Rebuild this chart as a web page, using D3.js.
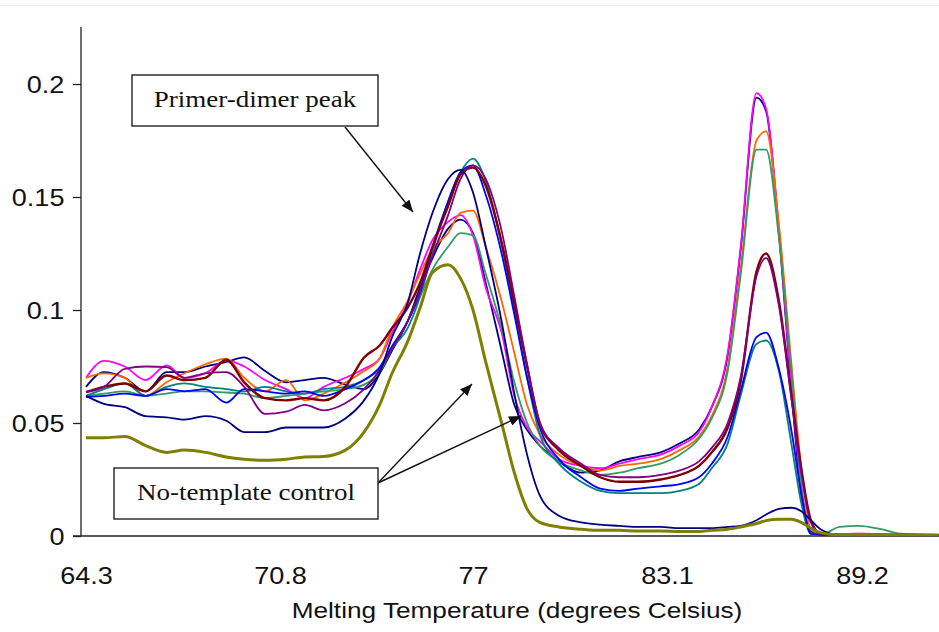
<!DOCTYPE html>
<html>
<head>
<meta charset="utf-8">
<script src="https://d3js.org/d3.v7.min.js"></script>
<style>
  html, body { margin: 0; padding: 0; background: #fff; }
  svg { display: block; }
</style>
</head>
<body>
<svg id="chart" width="939" height="632"></svg>
<script>
// ---- data ----
const temps = [64.3,64.9,65.6,66.3,67.0,67.6,68.3,69.0,69.6,70.3,71.0,71.6,72.2,72.9,73.5,74.0,74.4,74.9,75.3,75.7,76.2,76.6,77.0,77.4,77.9,78.3,78.7,79.1,79.7,80.4,81.0,81.6,82.2,82.9,83.5,84.1,84.5,85.0,85.4,85.9,86.2,86.6,87.0,87.3,87.6,87.9,88.5,89.1,89.8,90.4,91.6];

const xTickValues = [64.3, 70.8, 77, 83.1, 89.2];
const xTickLabels = ["64.3", "70.8", "77", "83.1", "89.2"];
const yTickValues = [0, 0.05, 0.1, 0.15, 0.2];
const yTickLabels = ["0", "0.05", "0.1", "0.15", "0.2"];

const navyB = [0.066,0.0725,0.070,0.064,0.0725,0.0725,0.075,0.077,0.079,0.073,
  0.068,0.069,0.070,0.067,0.065,0.072,0.082,0.095,0.110,0.123,
  0.136,0.140,0.134,0.112,0.082,0.058,0.047,0.040,0.033,0.028,
  0.029,0.033,0.035,0.037,0.041,0.047,0.057,0.080,0.126,0.194,
  0.188,0.134,0.063,0.018,0.002,0.001,0.0005,0.0006,0.0005,0.0005,0.0005];
const magenta = [0.070,0.0775,0.075,0.069,0.0755,0.070,0.072,0.0777,0.075,0.069,
  0.065,0.061,0.066,0.070,0.074,0.0785,0.090,0.103,0.118,0.131,
  0.139,0.142,0.133,0.110,0.090,0.062,0.048,0.042,0.034,0.031,
  0.030,0.032,0.034,0.036,0.040,0.046,0.057,0.081,0.127,0.196,
  0.189,0.136,0.065,0.022,0.001,0.0005,0.0008,0.001,0.0008,0.0005,0.0004];
const orange = [0.070,0.072,0.070,0.062,0.068,0.072,0.076,0.0785,0.070,0.064,
  0.069,0.060,0.063,0.068,0.073,0.0785,0.092,0.104,0.116,0.127,
  0.134,0.143,0.144,0.128,0.104,0.081,0.058,0.045,0.036,0.031,
  0.029,0.031,0.032,0.034,0.038,0.044,0.053,0.075,0.118,0.175,
  0.179,0.138,0.075,0.030,0.003,0.001,0.0008,0.001,0.0008,0.0005,0.0004];
const seagreen = [0.062,0.063,0.064,0.062,0.063,0.064,0.064,0.0635,0.063,0.061,
  0.062,0.063,0.064,0.065,0.067,0.0725,0.083,0.095,0.106,0.118,
  0.128,0.134,0.133,0.116,0.092,0.068,0.050,0.040,0.033,0.029,
  0.027,0.028,0.030,0.032,0.036,0.043,0.052,0.073,0.115,0.171,
  0.171,0.132,0.072,0.022,0.001,0.0005,0.004,0.0045,0.003,0.001,0.0005];
const teal = [0.062,0.065,0.0675,0.062,0.066,0.0675,0.066,0.065,0.064,0.066,
  0.064,0.063,0.065,0.066,0.069,0.074,0.083,0.092,0.106,0.126,
  0.148,0.161,0.167,0.157,0.129,0.100,0.070,0.045,0.032,0.024,
  0.020,0.019,0.019,0.019,0.020,0.023,0.030,0.041,0.062,0.085,
  0.0865,0.073,0.040,0.0146,0.001,0.0005,0.0005,0.0005,0.0005,0.0005,0.0004];
const blue = [0.0615,0.062,0.063,0.062,0.065,0.064,0.065,0.059,0.065,0.064,
  0.063,0.064,0.062,0.065,0.069,0.0747,0.084,0.095,0.108,0.128,
  0.148,0.161,0.164,0.151,0.125,0.098,0.070,0.048,0.034,0.026,
  0.021,0.020,0.021,0.022,0.023,0.026,0.032,0.044,0.064,0.088,
  0.090,0.074,0.046,0.019,0.001,0.0005,0.0005,0.0005,0.0005,0.0005,0.0004];
const darkred = [0.0637,0.066,0.0675,0.064,0.071,0.069,0.070,0.078,0.068,0.061,
  0.060,0.061,0.060,0.066,0.079,0.0843,0.092,0.101,0.112,0.128,
  0.146,0.160,0.163,0.155,0.130,0.103,0.075,0.050,0.038,0.031,
  0.026,0.024,0.024,0.025,0.027,0.031,0.037,0.048,0.068,0.117,
  0.125,0.104,0.0613,0.030,0.007,0.001,0.0005,0.0005,0.0005,0.0005,0.0004];
const purple = [0.0637,0.066,0.074,0.075,0.0747,0.070,0.072,0.0725,0.066,0.054,
  0.055,0.058,0.0556,0.0587,0.065,0.0733,0.083,0.095,0.108,0.124,
  0.142,0.158,0.164,0.158,0.135,0.106,0.076,0.050,0.039,0.032,
  0.027,0.026,0.026,0.027,0.029,0.033,0.039,0.050,0.070,0.115,
  0.123,0.102,0.060,0.028,0.006,0.001,0.0005,0.0005,0.0005,0.0005,0.0004];
const navyA = [0.062,0.0585,0.057,0.053,0.0525,0.0515,0.053,0.051,0.046,0.046,
  0.048,0.048,0.048,0.052,0.060,0.072,0.088,0.103,0.125,0.143,
  0.158,0.162,0.152,0.128,0.095,0.063,0.036,0.018,0.009,0.006,
  0.005,0.0045,0.004,0.004,0.0035,0.0035,0.0035,0.004,0.0045,0.007,
  0.0095,0.012,0.0125,0.011,0.007,0.003,0.0005,0.0005,0.0005,0.0005,0.0005];
const olive = [0.0435,0.0435,0.044,0.040,0.037,0.038,0.037,0.035,0.034,0.0335,
  0.034,0.035,0.0352,0.038,0.046,0.058,0.072,0.086,0.101,0.1166,
  0.120,0.114,0.100,0.077,0.050,0.028,0.012,0.006,0.004,0.003,
  0.0025,0.0025,0.0022,0.0022,0.002,0.002,0.0025,0.003,0.004,0.0055,
  0.0068,0.0074,0.0074,0.006,0.0035,0.0015,0.0005,0.0005,0.0004,0.0004,0.0004];

const seriesNames = ["navyB","magenta","orange","seagreen","teal","blue","darkred","purple","navyA","olive"];
const seriesValues = [navyB, magenta, orange, seagreen, teal, blue, darkred, purple, navyA, olive];
const seriesColors = ["#000080","#FF00FF","#FF6600","#339966","#008080","#0000FF","#800000","#800080","#000080","#808000"];
const seriesWidths = [1.8,1.8,1.8,1.8,1.8,1.8,2.4,1.8,1.8,3];

const annotations = [
  {text: "Primer-dimer peak", box: [132, 75, 378, 126], tx: 255, ty: 107,
   arrows: [[345, 127, 413, 212]]},
  {text: "No-template control", box: [114, 468, 378, 519], tx: 246, ty: 500,
   arrows: [[378, 483, 472, 384], [378, 483, 521, 416]]}
];

// ---- chart ----
const svg = d3.select("#chart");
const axisX0 = 81, axisXEnd = 939, axisY0 = 536, axisTop = 27;
const SX = 1.175; // horizontal stretch of text

const x = d3.scaleLinear()
  .domain(xTickValues)
  .range([86, 280, 473, 667, 862]);
const y = d3.scaleLinear().domain([0, 0.225]).range([axisY0, 27.5]);

// light border at top
svg.append("line").attr("x1", 0).attr("x2", 939).attr("y1", 5.5).attr("y2", 5.5)
  .attr("stroke", "#ececec").attr("stroke-width", 1);

svg.append("defs").append("clipPath").attr("id", "plotclip")
  .append("rect").attr("x", axisX0).attr("y", 0).attr("width", axisXEnd - axisX0).attr("height", axisY0);

svg.append("defs").append("marker").attr("id", "arrowhead")
  .attr("viewBox", "0 0 12 10").attr("refX", 12).attr("refY", 5)
  .attr("markerWidth", 12).attr("markerHeight", 10).attr("markerUnits", "userSpaceOnUse")
  .attr("orient", "auto")
  .append("path").attr("d", "M0,0 L12,5 L0,10 Z").attr("fill", "#111");

// y axis
const yAxis = d3.axisLeft(y).tickValues(yTickValues)
  .tickFormat((d, i) => yTickLabels[i]).tickSize(8).tickSizeOuter(0);
const gy = svg.append("g").attr("transform", `translate(${axisX0},0)`).call(yAxis);
gy.select(".domain").remove();
gy.selectAll(".tick line").attr("stroke", "#222").attr("stroke-width", 1.3);
gy.selectAll(".tick text")
  .attr("font-family", "'Liberation Sans', Arial, sans-serif")
  .attr("font-size", 23).attr("fill", "#111")
  .attr("x", -16.6 / SX).attr("dy", "0.35em")
  .attr("transform", `scale(${SX},1)`);
svg.append("line").attr("x1", axisX0).attr("x2", axisX0).attr("y1", axisTop).attr("y2", axisY0)
  .attr("stroke", "#222").attr("stroke-width", 1.3);

// x axis
const xAxis = d3.axisBottom(x).tickValues(xTickValues)
  .tickFormat((d, i) => xTickLabels[i]).tickSize(0).tickPadding(0);
const gx = svg.append("g").attr("transform", `translate(0,${axisY0})`).call(xAxis);
gx.select(".domain").remove();
gx.selectAll(".tick text")
  .attr("font-family", "'Liberation Sans', Arial, sans-serif")
  .attr("font-size", 23).attr("fill", "#111")
  .attr("y", 48).attr("dy", 0)
  .attr("transform", `scale(${SX},1)`)
  .attr("x", 0);
// scale about each tick's center: ticks are translated groups, text x=0 so scale keeps center
svg.append("line").attr("x1", 73).attr("x2", axisXEnd).attr("y1", axisY0).attr("y2", axisY0)
  .attr("stroke", "#222").attr("stroke-width", 1.3);

// axis title
svg.append("g").attr("transform", `translate(517,618) scale(${SX},1)`)
  .append("text").attr("text-anchor", "middle")
  .attr("font-family", "'Liberation Sans', Arial, sans-serif")
  .attr("font-size", 22.3).attr("fill", "#111")
  .text("Melting Temperature (degrees Celsius)");

// lines
const line = d3.line()
  .x((d, i) => x(temps[i]))
  .y(d => y(d))
  .curve(d3.curveMonotoneX);

const gLines = svg.append("g").attr("clip-path", "url(#plotclip)");
gLines.selectAll("path")
  .data(seriesValues)
  .join("path")
  .attr("d", d => line(d))
  .attr("fill", "none")
  .attr("stroke", (d, i) => seriesColors[i])
  .attr("stroke-width", (d, i) => seriesWidths[i])
  .attr("stroke-linejoin", "round");

// annotations
annotations.forEach(a => {
  a.arrows.forEach(ar => {
    svg.append("line")
      .attr("x1", ar[0]).attr("y1", ar[1]).attr("x2", ar[2]).attr("y2", ar[3])
      .attr("stroke", "#111").attr("stroke-width", 1.4)
      .attr("marker-end", "url(#arrowhead)");
  });
  svg.append("rect")
    .attr("x", a.box[0]).attr("y", a.box[1])
    .attr("width", a.box[2] - a.box[0]).attr("height", a.box[3] - a.box[1])
    .attr("fill", "#fff").attr("stroke", "#222").attr("stroke-width", 1.4);
  svg.append("g").attr("transform", `translate(${a.tx},${a.ty}) scale(1.2,1)`)
    .append("text").attr("text-anchor", "middle")
    .attr("font-family", "'Liberation Serif', 'Times New Roman', serif")
    .attr("font-size", 22.5).attr("fill", "#111")
    .text(a.text);
});
</script>
</body>
</html>
